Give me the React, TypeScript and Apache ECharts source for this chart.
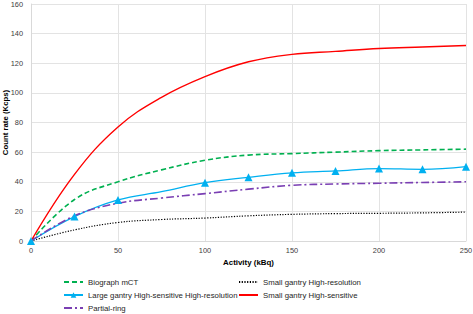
import React, { useEffect, useRef } from "react";
import * as echarts from "echarts";

const activity = [0, 25, 50, 75, 100, 125, 150, 175, 200, 225, 250];
const biographMCT = [0, 28, 40, 48, 54.5, 58, 59, 60, 61, 61.5, 62];
const smallHighRes = [0, 7.5, 12.5, 14.5, 15.5, 17, 18, 18.5, 18.7, 19, 19.5];
const largeHighSensHighRes = [0, 16.5, 27.7, 33.3, 39.4, 43, 46, 47.3, 48.9, 48.4, 50.2];
const smallHighSens = [0, 45, 77, 97, 111, 121, 126, 128, 130, 131, 132];
const partialRing = [0, 17, 25.5, 29, 32, 35, 37.6, 38.5, 39, 39.5, 40];
const largeMarkerlessAt = [75];

const seriesNames = [
  "Biograph mCT",
  "Small gantry High-resolution",
  "Large gantry High-sensitive High-resolution",
  "Small gantry High-sensitive",
  "Partial-ring",
];

const FONT = "Liberation Sans, Arial, sans-serif";

export default function App() {
  const ref = useRef<HTMLDivElement>(null);
  useEffect(() => {
    if (!ref.current) return;
    const chart = echarts.init(ref.current, undefined, { renderer: "svg" });
    const pairs = (vals: number[]) => activity.map((x, i) => [x, vals[i]]);
    const blueData = activity.map((x, i) =>
      largeMarkerlessAt.includes(x)
        ? { value: [x, largeHighSensHighRes[i]], symbol: "none" }
        : { value: [x, largeHighSensHighRes[i]] }
    );
    const legendText = { fontFamily: FONT, fontSize: 7.8, color: "#262626" };
    // legend slot: [series index, left, top]
    const slots: [number, number, number][] = [
      [0, 63, 278],
      [1, 238, 278],
      [2, 63, 291],
      [3, 238, 291],
      [4, 63, 304],
    ];
    const legends = slots.map(([idx, left, top]) => ({
      data: [
        idx === 2
          ? { name: seriesNames[idx] }
          : { name: seriesNames[idx], itemStyle: { opacity: 0 } },
      ],
      orient: "horizontal",
      left,
      top,
      padding: 0,
      itemWidth: 19,
      itemHeight: 7,
      itemGap: 0,
      textStyle: legendText,
    }));
    chart.setOption({
      animation: false,
      textStyle: { fontFamily: FONT },
      grid: {
        left: 31,
        right: 7,
        top: 4,
        bottom: 73,
        containLabel: false,
        outerBoundsMode: "none",
      },
      legend: legends,
      xAxis: {
        type: "value",
        min: 0,
        max: 250,
        interval: 50,
        name: "Activity (kBq)",
        nameLocation: "middle",
        nameGap: 17,
        nameMoveOverlap: false,
        nameTextStyle: { fontFamily: FONT, fontSize: 7.9, fontWeight: "bold", color: "#000" },
        axisLine: { show: true, lineStyle: { color: "#d9d9d9", width: 1 } },
        axisTick: { show: false },
        axisLabel: { fontFamily: FONT, fontSize: 7.4, color: "#404040", margin: 6 },
        splitLine: { show: true, lineStyle: { color: "#e3e3e3", width: 1 } },
      },
      yAxis: {
        type: "value",
        min: 0,
        max: 160,
        interval: 20,
        name: "Count rate (Kcps)",
        nameLocation: "middle",
        nameGap: 22,
        nameMoveOverlap: false,
        nameTextStyle: { fontFamily: FONT, fontSize: 7.8, fontWeight: "bold", color: "#000" },
        axisLine: { show: true, lineStyle: { color: "#d9d9d9", width: 1 } },
        axisTick: { show: false },
        axisLabel: { fontFamily: FONT, fontSize: 7.4, color: "#404040", margin: 8 },
        splitLine: { show: true, lineStyle: { color: "#e3e3e3", width: 1 } },
      },
      series: [
        {
          name: seriesNames[0],
          type: "line",
          data: pairs(biographMCT),
          smooth: 0.4,
          symbol: "none",
          lineStyle: { color: "#00b050", width: 1.6, type: [5, 3] },
          itemStyle: { color: "#00b050" },
        },
        {
          name: seriesNames[1],
          type: "line",
          data: pairs(smallHighRes),
          smooth: 0.4,
          symbol: "none",
          lineStyle: { color: "#000", width: 1.2, type: [1.2, 1.5] },
          itemStyle: { color: "#000" },
        },
        {
          name: seriesNames[2],
          type: "line",
          data: blueData,
          smooth: 0.4,
          symbol: "triangle",
          symbolSize: 8,
          lineStyle: { color: "#00b0f0", width: 1.3 },
          itemStyle: { color: "#00b0f0" },
        },
        {
          name: seriesNames[3],
          type: "line",
          data: pairs(smallHighSens),
          smooth: 0.4,
          symbol: "none",
          lineStyle: { color: "#ff0000", width: 1.4 },
          itemStyle: { color: "#ff0000" },
        },
        {
          name: seriesNames[4],
          type: "line",
          data: pairs(partialRing),
          smooth: 0.4,
          symbol: "none",
          lineStyle: { color: "#7a3fb3", width: 1.6, type: [8, 3, 2, 3] },
          itemStyle: { color: "#7a3fb3" },
        },
      ],
    });
    return () => chart.dispose();
  }, []);
  return <div ref={ref} style={{ width: 473, height: 314, position: "absolute", left: 0, top: 0 }} />;
}
